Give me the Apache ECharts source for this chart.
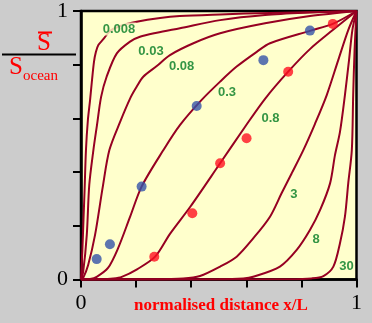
<!DOCTYPE html>
<html>
<head>
<meta charset="utf-8">
<script src="https://cdn.jsdelivr.net/npm/echarts@6/dist/echarts.min.js"></script>
<style>
html,body{margin:0;padding:0;background:#cccccc;}
#c{width:372px;height:323px;}
</style>
</head>
<body>
<div id="c"></div>
<script>
// ---- data ----
const curveNames = ['0.008', '0.03', '0.08', '0.3', '0.8', '3', '8', '30'];
const c0008 = [[0,0],[0.005,0.11],[0.009,0.222],[0.013,0.333],[0.018,0.482],[0.025,0.594],[0.033,0.669],[0.040,0.743],[0.047,0.810],[0.054,0.847],[0.063,0.873],[0.081,0.895],[0.105,0.925],[0.142,0.944],[0.202,0.960],[0.287,0.974],[0.359,0.981],[0.505,0.987],[0.686,0.993],[0.868,0.996],[1,1]];
const c003 = [[0,0],[0.008,0.029],[0.021,0.166],[0.030,0.352],[0.045,0.482],[0.058,0.575],[0.073,0.680],[0.093,0.755],[0.130,0.842],[0.178,0.886],[0.214,0.904],[0.275,0.919],[0.359,0.936],[0.505,0.966],[0.668,0.985],[0.831,0.994],[1,1]];
const c008 = [[0,0],[0.008,0.006],[0.026,0.054],[0.051,0.166],[0.079,0.345],[0.103,0.482],[0.142,0.587],[0.181,0.680],[0.202,0.718],[0.226,0.755],[0.275,0.795],[0.323,0.836],[0.408,0.880],[0.505,0.917],[0.668,0.954],[0.831,0.981],[1,1]];
const c03 = [[0,0],[0.033,0.002],[0.057,0.010],[0.098,0.043],[0.134,0.115],[0.178,0.233],[0.220,0.346],[0.299,0.482],[0.359,0.575],[0.438,0.669],[0.505,0.737],[0.565,0.793],[0.638,0.848],[0.686,0.880],[0.834,0.927],[0.914,0.952],[1,1]];
const c08 = [[0,0],[0.069,0.001],[0.117,0.004],[0.148,0.010],[0.205,0.039],[0.269,0.085],[0.323,0.170],[0.396,0.270],[0.505,0.433],[0.595,0.568],[0.668,0.673],[0.752,0.774],[0.831,0.858],[0.914,0.929],[1,1]];
const c3 = [[0,0],[0.25,0.001],[0.371,0.004],[0.432,0.013],[0.505,0.048],[0.565,0.085],[0.625,0.153],[0.686,0.234],[0.728,0.321],[0.765,0.396],[0.807,0.482],[0.849,0.579],[0.892,0.687],[0.934,0.818],[0.970,0.929],[1,1]];
const c8 = [[0,0],[0.50,0.001],[0.589,0.004],[0.625,0.010],[0.722,0.048],[0.783,0.110],[0.831,0.184],[0.868,0.259],[0.904,0.358],[0.922,0.464],[0.940,0.550],[0.958,0.687],[0.973,0.818],[0.985,0.929],[1,1]];
const c30 = [[0,0],[0.76,0.001],[0.837,0.004],[0.880,0.013],[0.916,0.048],[0.940,0.135],[0.958,0.234],[0.970,0.358],[0.983,0.482],[0.988,0.687],[0.993,0.855],[1,1]];
const curves = [c0008, c003, c008, c03, c08, c3, c8, c30];
// label anchor points (data units) for each curve name
const labelX = [0.138, 0.254, 0.365, 0.530, 0.688, 0.773, 0.853, 0.964];
const labelY = [0.933, 0.851, 0.793, 0.695, 0.600, 0.318, 0.151, 0.047];
// measured points
const blueX = [0.057, 0.105, 0.220, 0.420, 0.662, 0.831];
const blueY = [0.076, 0.131, 0.346, 0.646, 0.817, 0.927];
const redX = [0.266, 0.404, 0.505, 0.601, 0.752, 0.914];
const redY = [0.085, 0.247, 0.433, 0.526, 0.774, 0.952];
// ticks
const tickValues = [0, 0.2, 0.4, 0.6, 0.8, 1];
const tickLabels = {0: '0', 1: '1'};

const chart = echarts.init(document.getElementById('c'));
const curveColor = '#960022';
const series = curves.map((d, i) => ({
  type: 'line', name: curveNames[i], data: d, showSymbol: false, symbol: 'none',
  smooth: 0.3, lineStyle: {color: curveColor, width: 2}, z: 2, silent: true
}));
series.push({
  type: 'scatter', data: labelX.map((x, i) => ({value: [x, labelY[i]], name: curveNames[i]})),
  symbolSize: 0, z: 5, silent: true,
  label: {show: true, position: 'inside', formatter: p => p.name, color: '#007a22',
    fontFamily: 'Liberation Sans', fontWeight: 'bold', fontSize: 13,
    backgroundColor: '#ffffcc', padding: [0, 1]}
});
series.push({type: 'scatter', data: blueX.map((x, i) => [x, blueY[i]]), symbolSize: 10,
  itemStyle: {color: '#3552a8'}, z: 6, silent: true});
series.push({type: 'scatter', data: redX.map((x, i) => [x, redY[i]]), symbolSize: 10,
  itemStyle: {color: '#ff1020'}, z: 6, silent: true});

const axisCommon = {
  type: 'value', min: 0, max: 1, interval: 0.2,
  axisLine: {show: true, lineStyle: {color: '#000', width: 2.5}},
  axisTick: {show: true, inside: false, length: 8, lineStyle: {color: '#000', width: 2}},
  splitLine: {show: false},
  axisLabel: {formatter: v => tickLabels[v] !== undefined ? tickLabels[v] : '',
    color: '#000', fontFamily: 'Liberation Serif', fontSize: 22, margin: 13}
};

chart.setOption({
  animation: false,
  backgroundColor: '#cccccc',
  grid: {left: 81, right: 15.5, top: 11, bottom: 43.5, show: true,
    backgroundColor: '#ffffcc', borderColor: '#000', borderWidth: 2.5},
  xAxis: Object.assign({}, axisCommon),
  yAxis: Object.assign({}, axisCommon),
  series: series,
  graphic: [
    {type: 'text', left: 37, top: 31, style: {text: 'S', fill: '#ff0000', font: '25px "Liberation Serif"'}},
    {type: 'line', shape: {x1: 38, y1: 32.5, x2: 52, y2: 32.5}, style: {stroke: '#ff0000', lineWidth: 2}},
    {type: 'line', shape: {x1: 2, y1: 54.5, x2: 76, y2: 54.5}, style: {stroke: '#000', lineWidth: 2}},
    {type: 'text', left: 9, top: 55, style: {text: 'S', fill: '#ff0000', font: '25px "Liberation Serif"'}},
    {type: 'text', left: 23, top: 69, style: {text: 'ocean', fill: '#ff0000', font: '15px "Liberation Serif"'}},
    {type: 'text', left: 134, top: 297, style: {text: 'normalised distance x/L', fill: '#ff0000', font: 'bold 17px "Liberation Serif"'}}
  ]
});
</script>
</body>
</html>
